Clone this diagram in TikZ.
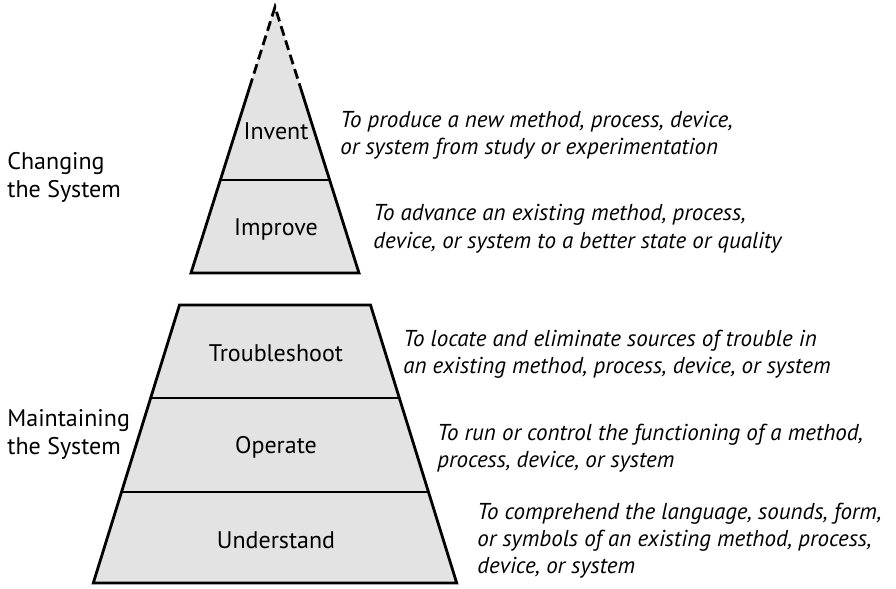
\documentclass[tikz,border=0pt]{standalone}
\usepackage{fontspec}
\setmainfont{PT Sans}
\usepackage{tikz}

\tikzset{
  layer/.style={draw, line width=1.4pt, line join=miter},
  block/.style={anchor=base, font=\fontsize{12}{13.5}\selectfont},
  note/.style={anchor=base west, align=left, inner sep=0pt, font=\fontsize{11.5}{13.5}\selectfont\itshape},
  side/.style={anchor=base west, align=left, inner sep=0pt, font=\fontsize{12}{13.75}\selectfont}
}

\begin{document}
\begin{tikzpicture}[x=0.5pt,y=-0.5pt]
\useasboundingbox (0,0) rectangle (896,589);
% changing the system
\coordinate (apex) at (275,7);
\fill[black!11] (apex) -- (191,273) -- (359,273) -- cycle;
\draw[line width=1.4pt, dash pattern=on 5pt off 2.5pt] (249.4,88) -- (apex) -- (300.6,88);
\draw[layer] (249.4,88) -- (191,273) -- (359,273) -- (300.6,88);
\draw[layer] (220.3,180) -- (329.7,180);
% maintaining the system
\draw[layer, fill=black!11] (179.5,305) -- (93.3,583) -- (456.7,583) -- (370.5,305) -- cycle;
\draw[layer] (150.7,398) -- (399.3,398);
\draw[layer] (121.5,492) -- (428.5,492);

\node[block] (invent) at (276,140) {Invent};
\node[block] (improve) at (276,235) {Improve};
\node[block] (troubleshoot) at (276,361) {Troubleshoot};
\node[block] (operate) at (276,453) {Operate};
\node[block] (understand) at (276,548) {Understand};

% base = last line
\node[side] (changing) at (7,197) {Changing\\the System};
\node[side] (maintaining) at (7,454) {Maintaining\\the System};

\node[note] (inventnote) at (340,155) {To produce a new method, process, device,\\or system from study or experimentation};
\node[note] (improvenote) at (373,248) {To advance an existing method, process,\\device, or system to a better state or quality};
\node[note] (troublenote) at (403,373) {To locate and eliminate sources of trouble in\\an existing method, process, device, or system};
\node[note] (operatenote) at (437,467) {To run or control the functioning of a method,\\process, device, or system};
\node[note] (understandnote) at (477,573) {To comprehend the language, sounds, form,\\or symbols of an existing method, process,\\device, or system};
\end{tikzpicture}
\end{document}
